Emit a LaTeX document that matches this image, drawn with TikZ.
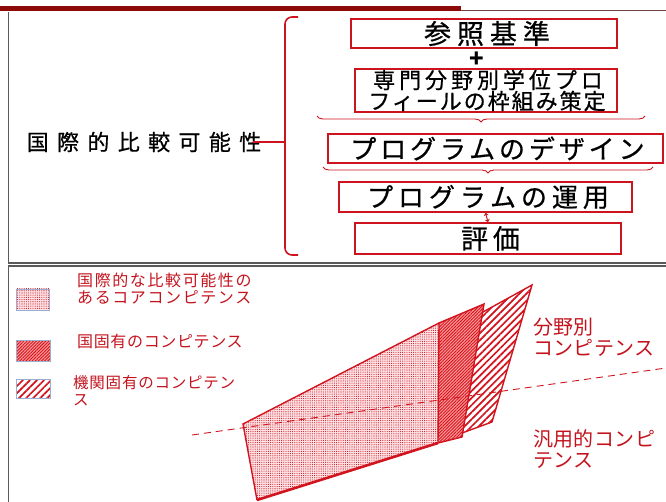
\documentclass[tikz,border=0pt]{standalone}
\usepackage{fontspec}
\setmainfont{Noto Sans CJK JP}
\usetikzlibrary{patterns.meta,decorations.pathreplacing,arrows.meta}
\definecolor{barred}{RGB}{140,10,10}
\definecolor{barline}{RGB}{110,70,70}
\definecolor{boxred}{RGB}{205,20,30}
\definecolor{txtred}{RGB}{195,20,30}
\definecolor{shred}{RGB}{210,20,30}
\definecolor{legblue}{RGB}{150,175,210}
\definecolor{pinkbg}{RGB}{252,225,228}
\definecolor{panelgray}{RGB}{90,90,90}
\newcommand{\jf}[2]{\fontsize{#1}{#1}\selectfont\addfontfeature{LetterSpace=#2,FakeBold=0.6}}
\tikzset{
  stepbox/.style={draw=boxred, line width=1.5pt, inner sep=0pt, align=center, text=black},
  legtext/.style={text=txtred, anchor=west, align=left, inner sep=0pt},
  swatch/.style={draw=legblue, line width=0.8pt},
  dotfill/.style={preaction={fill=pinkbg}, pattern={Dots[distance=2.2pt,radius=0.55pt]}, pattern color=shred},
  hatchfill/.style={preaction={fill=red!40}, pattern={Lines[angle=45,distance=2.2pt,line width=0.9pt]}, pattern color=shred},
  stripefill/.style={preaction={fill=white}, pattern={Lines[angle=45,distance=5pt,line width=1.7pt]}, pattern color=shred},
  panel/.style={draw=panelgray, line width=1.2pt},
  ubrace/.style={draw=boxred, line width=0.9pt, decorate, decoration={brace, amplitude=6pt}},
}
\begin{document}
\begin{tikzpicture}[x=1pt,y=-1pt]
\useasboundingbox (0,0) rectangle (666,502);
% top bar
\draw[barline, line width=1.5pt] (0,10.5) -- (666,10.5);
\fill[barred] (0,6.5) rectangle (461,11.5);
% panels
\draw[panel] (8.5,12) -- (8.5,263) -- (666,263);
\draw[panel] (666,266) -- (8.5,266) -- (8.5,502);

% top panel boxes
\node[stepbox, minimum width=266pt, minimum height=29pt] (ref) at (484,33.5) {\jf{27}{22}参照基準\hspace*{-6pt}};
\node[text=black, inner sep=0pt] (plus) at (477,60) {\fontsize{24}{24}\selectfont\bfseries +};
\node[stepbox, minimum width=262pt, minimum height=43pt, font={\fontsize{22}{21}\selectfont\addfontfeature{FakeBold=0.6}}] (prof) at (486,90.5)
  {\addfontfeature{LetterSpace=18}専門分野別学位プロ\hspace*{-4pt}\\[0pt]\addfontfeature{LetterSpace=9}フィールの枠組み策定\hspace*{-2pt}};
\node[stepbox, minimum width=335pt, minimum height=29pt] (design) at (495.5,148.5) {\jf{26}{15}プログラムのデザイン\hspace*{-4pt}};
\node[stepbox, minimum width=293pt, minimum height=30pt] (unyo) at (485.5,197) {\jf{26}{19}プログラムの運用\hspace*{-5pt}};
\node[stepbox, minimum width=266pt, minimum height=31pt] (hyoka) at (488,238.5) {\jf{27}{18}評価\hspace*{-5pt}};

% braces under boxes
\draw[ubrace, decoration={mirror}] (317,116) -- (645,116);
\draw[ubrace, decoration={mirror}] (323,167) -- (653,167);
% small double arrow
\draw[boxred, line width=1pt, {Stealth[length=3pt,width=5pt]}-{Stealth[length=3pt,width=5pt]}] (unyo.south) -- (hyoka.north);

% big bracket
\draw[boxred, line width=1.6pt, rounded corners=7pt] (298,17) -- (285,17) -- (285,255) -- (298,255);
\coordinate (bmid) at (285,142);
\node[text=black, inner sep=0pt] (comp) at (140,142) {\jf{22}{38}国際的比較可能性\hspace*{-8pt}};
\draw[boxred, line width=1.2pt] (comp.east) -- (bmid);

% legend
\path[swatch, dotfill] (16,289) rectangle (49,310);
\node[legtext, font={\fontsize{16}{17}\selectfont\addfontfeature{LetterSpace=10}}] (l1) at (77,289) {国際的な比較可能性の\\あるコアコンピテンス};
\path[swatch, hatchfill] (16,340) rectangle (50,361);
\node[legtext, font={\fontsize{16}{17}\selectfont\addfontfeature{LetterSpace=4}}] (l2) at (77,341) {国固有のコンピテンス};
\path[swatch, stripefill] (16,379) rectangle (50,398);
\node[legtext, font={\fontsize{15.5}{17}\selectfont\addfontfeature{LetterSpace=5}}] (l3) at (73,390.5) {機関固有のコンピテン\\ス};

% shapes
\path[stripefill] (483,312) -- (532,285) -- (492,422) -- (462,433) -- cycle;
\draw[shred, line width=1.4pt] (483,312) -- (532,285) -- (492,422) -- (462,433);
\path[hatchfill] (439,323) -- (484,304) -- (462,437) -- (438,443) -- cycle;
\draw[shred, line width=1.4pt] (439,323) -- (484,304) -- (462,437) -- (438,443);
\path[dotfill] (243,424) -- (439,323) -- (438,443) -- (257,500) -- cycle;
\draw[shred, line width=1.4pt] (257,500) -- (243,424) -- (439,323) -- (438,443);
\draw[shred, line width=2.6pt] (438,443) -- (257,500);
\draw[shred, line width=0.9pt, dash pattern=on 7pt off 5pt] (192,435) -- (666,368);

% right labels
\node[legtext, font={\fontsize{20}{21}\selectfont\addfontfeature{LetterSpace=2}}] (bunya) at (533,337.5) {分野別\\コンピテンス};
\node[legtext, font={\fontsize{20}{21}\selectfont\addfontfeature{LetterSpace=2}}] (hanyo) at (533,449.5) {汎用的コンピ\\テンス};
\end{tikzpicture}
\end{document}
